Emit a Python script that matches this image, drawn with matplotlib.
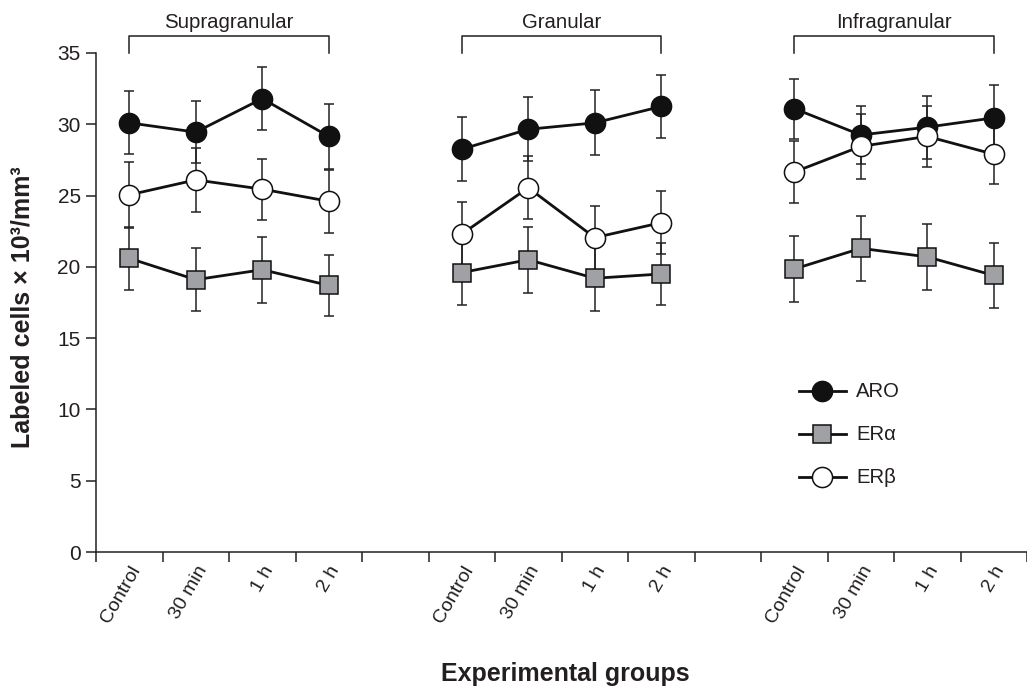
import numpy as np
import matplotlib
matplotlib.use("Agg")
import matplotlib.pyplot as plt

plt.rcParams['font.family'] = ['Liberation Sans', 'DejaVu Sans']

groups = ['Supragranular', 'Granular', 'Infragranular']
times = ['Control', '30 min', '1 h', '2 h']

# mean values per group (Control, 30 min, 1 h, 2 h)
aro = [[30.1, 29.45, 31.8, 29.15],
       [28.25, 29.65, 30.1, 31.25],
       [31.1, 29.25, 29.8, 30.45]]
aro_err = [[2.2, 2.15, 2.2, 2.3],
           [2.25, 2.25, 2.28, 2.2],
           [2.1, 2.05, 2.2, 2.3]]

era = [[20.6, 19.1, 19.8, 18.7],
       [19.6, 20.5, 19.2, 19.5],
       [19.85, 21.3, 20.7, 19.4]]
era_err = [[2.2, 2.2, 2.3, 2.15],
           [2.3, 2.3, 2.3, 2.2],
           [2.3, 2.3, 2.3, 2.3]]

erb = [[25.05, 26.1, 25.45, 24.6],
       [22.3, 25.55, 22.05, 23.1],
       [26.65, 28.45, 29.15, 27.9]]
erb_err = [[2.3, 2.25, 2.15, 2.2],
           [2.25, 2.2, 2.25, 2.2],
           [2.2, 2.3, 2.15, 2.1]]

txt = '#231f20'
fig = plt.figure(figsize=(10.27, 6.88), dpi=100)
ax = fig.add_axes([96/1027, 136/688, 931/1027, 499/688])

series = [
    (aro, aro_err, dict(marker='o', mfc='#111111', ms=14.5), 'ARO'),
    (era, era_err, dict(marker='s', mfc='#a0a1a4', ms=13), 'ER\u03b1'),
    (erb, erb_err, dict(marker='o', mfc='white', ms=14.5), 'ER\u03b2'),
]

positions = []
for g in range(len(groups)):
    x = np.arange(4) + g * 5
    positions.extend(x)
    for vals, errs, style, name in series:
        ax.errorbar(x, vals[g], yerr=errs[g], fmt='none', ecolor='#222222',
                    elinewidth=1.1, capsize=3.8, capthick=1.1, zorder=2)
    for vals, errs, style, name in series:
        ax.plot(x, vals[g], color='#111111', lw=2, mec='#111111', mew=1.1,
                zorder=3, **style)
    # group bracket
    ax.plot([x[0], x[0], x[-1], x[-1]], [35, 36.2, 36.2, 35], color=txt,
            lw=1.1, clip_on=False)
    ax.text((x[0] + x[-1]) / 2, 36.75, groups[g], ha='center', va='baseline',
            fontsize=14.7, color=txt)

# legend drawn as marks inside the axes
leg_y = [11.28, 8.27, 5.26]
for (vals, errs, style, name), yy in zip(series, leg_y):
    ax.plot([10.07, 10.78], [yy, yy], color='#111111', lw=2, zorder=3)
    ax.plot([10.41], [yy], color='#111111', mec='#111111', mew=1.1,
            zorder=4, **style)
    ax.text(10.93, yy, name, va='center', ha='left', fontsize=14.6, color=txt)

ax.set_xlim(-0.5, 13.4)
ax.set_ylim(0, 35)
ax.set_yticks(np.arange(0, 36, 5))
ax.set_xticks(positions)
ax.set_xticklabels(times * 3, rotation=60, ha='right', va='top',
                   rotation_mode='anchor')
ax.set_xticks(np.arange(-0.5, 13.6, 1), minor=True)
ax.tick_params(axis='x', which='major', length=0, pad=8, labelsize=14,
               labelcolor=txt)
ax.tick_params(axis='x', which='minor', length=7, width=1.1, direction='out',
               color=txt)
ax.tick_params(axis='y', length=7, width=1.1, labelsize=15, labelcolor=txt,
               color=txt, pad=4)
for s in ['top', 'right']:
    ax.spines[s].set_visible(False)
for s in ['left', 'bottom']:
    ax.spines[s].set_linewidth(1.1)
    ax.spines[s].set_color(txt)

fig.text(23/1027, 1 - 307/688, 'Labeled cells \u00d7 10\u00b3/mm\u00b3',
         rotation=90, ha='center', va='center', fontsize=18,
         fontweight='bold', color=txt)
fig.text(565/1027, 1 - 681/688, 'Experimental groups', ha='center',
         va='baseline', fontsize=18, fontweight='bold', color=txt)

fig.savefig('out.png', dpi=100)
